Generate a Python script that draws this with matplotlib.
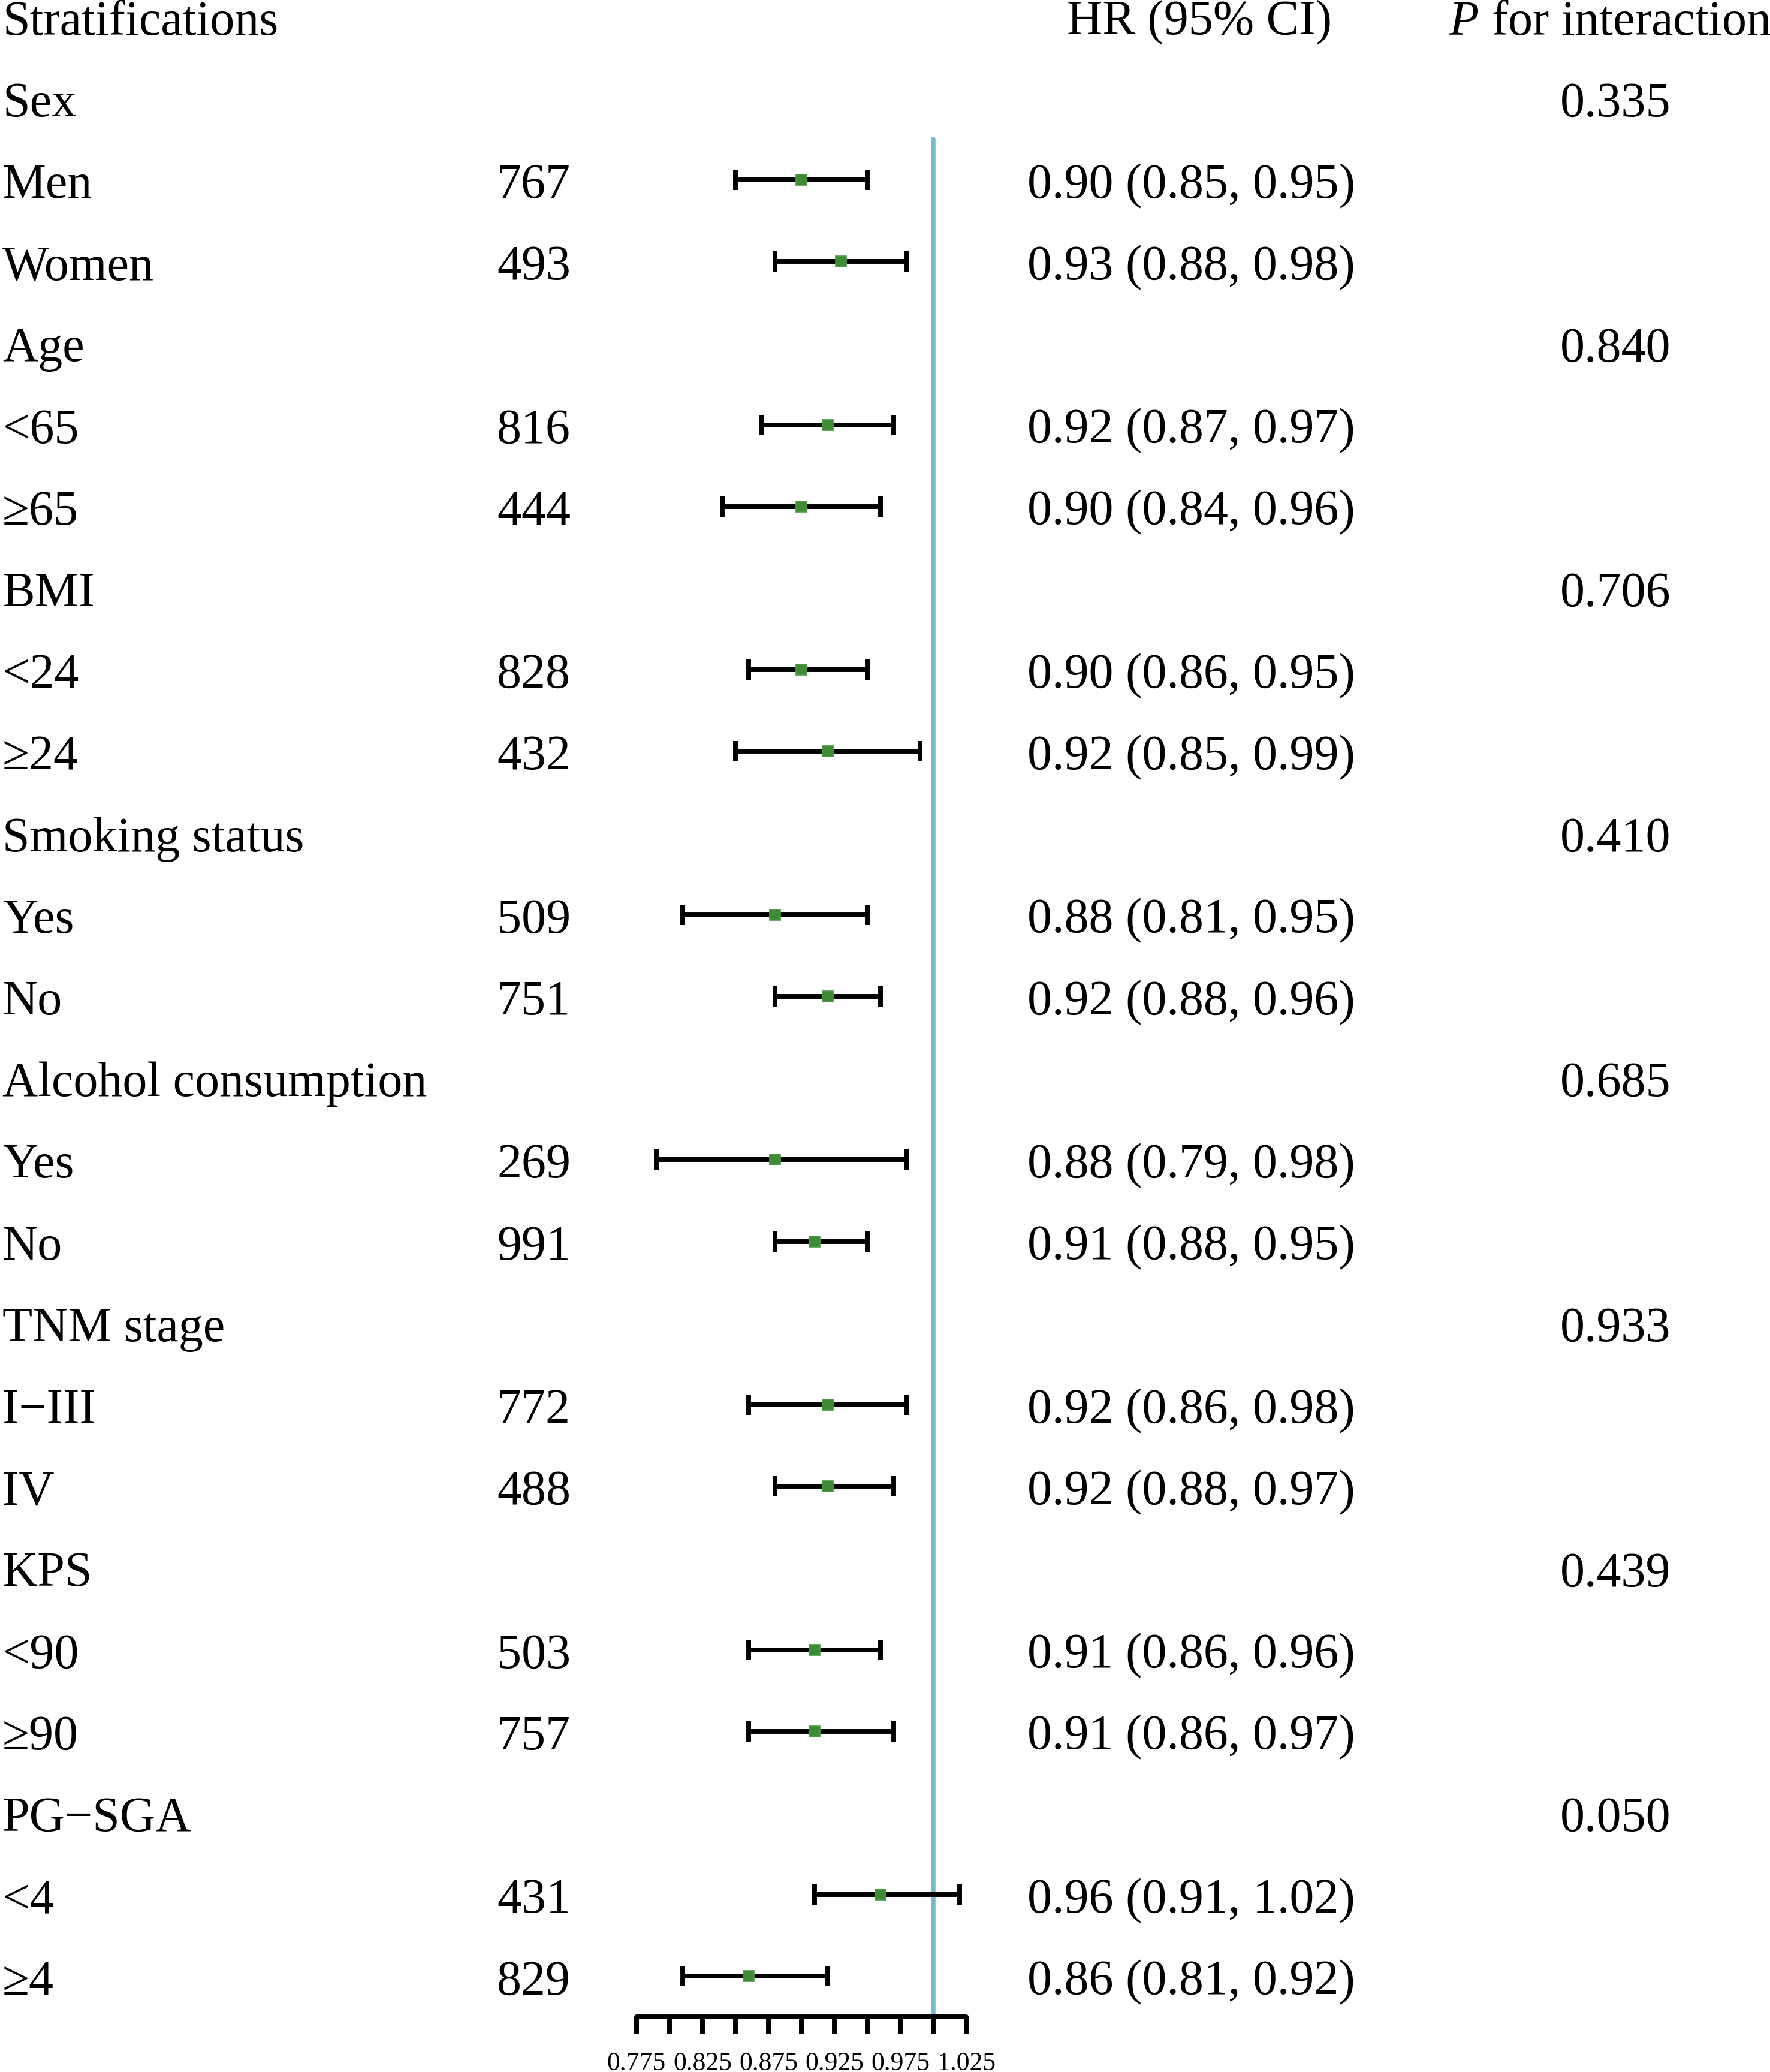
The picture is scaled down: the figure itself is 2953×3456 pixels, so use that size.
import numpy as np
import matplotlib
matplotlib.use("Agg")
import matplotlib.pyplot as plt

# stratification groups and their interaction p-values
groups = ["Sex", "Age", "BMI", "Smoking status", "Alcohol consumption",
          "TNM stage", "KPS", "PG\u2212SGA"]
p_interaction = ["0.335", "0.840", "0.706", "0.410", "0.685", "0.933", "0.439", "0.050"]

# two subgroups per group
subgroups = ["Men", "Women", "<65", "\u226565", "<24", "\u226524", "Yes", "No",
             "Yes", "No", "I\u2212III", "IV", "<90", "\u226590", "<4", "\u22654"]
n_obs = [767, 493, 816, 444, 828, 432, 509, 751, 269, 991, 772, 488, 503, 757, 431, 829]
hr = np.array([0.90, 0.93, 0.92, 0.90, 0.90, 0.92, 0.88, 0.92,
               0.88, 0.91, 0.92, 0.92, 0.91, 0.91, 0.96, 0.86])
ci_low = np.array([0.85, 0.88, 0.87, 0.84, 0.86, 0.85, 0.81, 0.88,
                   0.79, 0.88, 0.86, 0.88, 0.86, 0.86, 0.91, 0.81])
ci_high = np.array([0.95, 0.98, 0.97, 0.96, 0.95, 0.99, 0.95, 0.96,
                    0.98, 0.95, 0.98, 0.97, 0.96, 0.97, 1.02, 0.92])

tick_vals = [0.775, 0.800, 0.825, 0.850, 0.875, 0.900, 0.925, 0.950, 0.975, 1.000, 1.025]

plt.rcParams['font.family'] = ['Liberation Serif', 'DejaVu Serif']
plt.rcParams['mathtext.fontset'] = 'custom'
plt.rcParams['mathtext.rm'] = 'Liberation Serif'
plt.rcParams['mathtext.it'] = 'Liberation Serif:italic'

W, H, DPI = 2953, 3456, 300
fig = plt.figure(figsize=(W / DPI, H / DPI), dpi=DPI)
ax = fig.add_axes([0, 0, 1, 1])

# pixel layout of the forest scale and rows
x_lo_px, x_hi_px = 1062, 1612
row0_px, row_step = 27.6, 136.2
per_px = (tick_vals[-1] - tick_vals[0]) / (x_hi_px - x_lo_px)
ax.set_xlim(tick_vals[0] - x_lo_px * per_px, tick_vals[0] + (W - x_lo_px) * per_px)
ax.set_ylim((H - row0_px) / row_step, -row0_px / row_step)

# build the rows
labels, label_y, group_y, sub_y = [], [], [], []
r = 1
k = 0
for g in groups:
    labels.append(g); label_y.append(r); group_y.append(r)
    r += 1
    for _ in range(2):
        labels.append(subgroups[k]); label_y.append(r); sub_y.append(r)
        r += 1
        k += 1
sub_y = np.array(sub_y)
last_row = sub_y[-1]

fs = 19.7
base = 30 / row_step  # baseline sits below the CI line
tr = ax.get_yaxis_transform()

# header
ax.text(4 / W, 0 + base, "Stratifications", transform=tr, fontsize=fs, va='baseline', ha='left')
ax.text(1780 / W, 0 + base, "HR (95% CI)", transform=tr, fontsize=fs, va='baseline', ha='left')
ax.text(2417 / W, 0 + base, r"$\mathit{P}$ for interaction", transform=tr, fontsize=fs,
        va='baseline', ha='left')

for lab, y in zip(labels, label_y):
    ax.text(4 / W, y + base, lab, transform=tr, fontsize=fs, va='baseline', ha='left')
for n, y in zip(n_obs, sub_y):
    ax.text(952 / W, y + base, str(n), transform=tr, fontsize=fs, va='baseline', ha='right')
for h, lo, hi, y in zip(hr, ci_low, ci_high, sub_y):
    ax.text(1714 / W, y + base, f"{h:.2f} ({lo:.2f}, {hi:.2f})", transform=tr,
            fontsize=fs, va='baseline', ha='left')
for p, y in zip(p_interaction, group_y):
    ax.text(2603 / W, y + base, p, transform=tr, fontsize=fs, va='baseline', ha='left')

# reference line at HR = 1
ax.vlines(1.0, group_y[0] + 0.5, last_row + 0.5, color='#74BDC7', lw=1.8, zorder=1,
          capstyle='round')

# CIs
eb = ax.errorbar(hr, sub_y, xerr=[hr - ci_low, ci_high - hr], fmt='none',
                 ecolor='black', elinewidth=1.9, capsize=4, capthick=1.9, zorder=2)
ax.plot(hr, sub_y, 's', color='#3D8B35', markersize=4.5, markeredgecolor='#4E9A45',
        markeredgewidth=0.4, zorder=3)

# bottom scale
for s in ['top', 'right', 'left']:
    ax.spines[s].set_visible(False)
ax.spines['bottom'].set_position(('data', last_row + 0.5))
ax.spines['bottom'].set_bounds(tick_vals[0], tick_vals[-1])
ax.spines['bottom'].set_linewidth(1.9)
ax.spines['bottom'].set_capstyle('round')
ax.set_xticks(tick_vals)
ax.set_xticklabels([f"{v:.3f}" if i % 2 == 0 else "" for i, v in enumerate(tick_vals)])
ax.tick_params(axis='x', direction='out', length=6.7, width=1.9, pad=7, labelsize=10.5)
ax.set_yticks([])
ax.patch.set_visible(False)

fig.savefig("out.png", dpi=DPI)
